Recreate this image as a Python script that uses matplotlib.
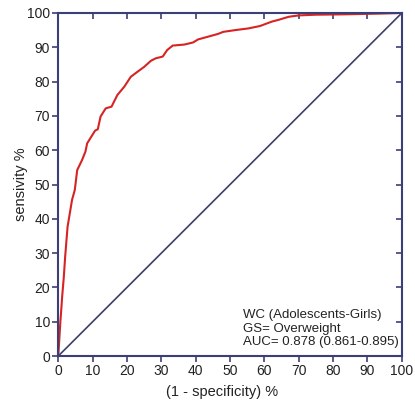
import matplotlib
matplotlib.use("Agg")
import matplotlib.pyplot as plt

plt.rcParams['font.family'] = ['Liberation Sans', 'DejaVu Sans']

# ROC curve: (1 - specificity) % and sensitivity %
fpr = [0, 0.3, 0.6, 0.9, 1.1, 1.6, 2.0, 2.7, 4.0, 4.8, 5.5, 6.9, 7.9, 8.4, 9.9,
       10.7, 11.5, 12.3, 13.8, 15.5, 17.2, 19.2, 21.1, 23.5, 25.0, 27.0, 28.4,
       30.4, 31.7, 33.3, 36.7, 39.2, 40.7, 43.6, 46.5, 48.0, 51.4, 55.3, 58.7,
       62.2, 64.1, 67.1, 70.0, 74.9, 82.7, 92.5, 100]
tpr = [0, 5, 10, 14, 17, 23, 29, 37.7, 45.5, 48.4, 54.2, 57.1, 59.6, 62, 64.4,
       65.7, 66.1, 69.8, 72.2, 72.7, 76.1, 78.5, 81.4, 83.2, 84.3, 86.1, 86.8,
       87.3, 89.2, 90.5, 90.8, 91.4, 92.3, 93.1, 93.9, 94.5, 95.0, 95.5, 96.2,
       97.5, 98.0, 98.9, 99.3, 99.5, 99.6, 99.8, 100]
ref_line = [0, 100]
ticks = list(range(0, 101, 10))
info = "WC (Adolescents-Girls)\nGS= Overweight\nAUC= 0.878 (0.861-0.895)"

navy = '#3b3f78'

fig = plt.figure(figsize=(4.15, 4.07), dpi=100)
ax = fig.add_axes([58.3 / 415, 51 / 407, 343.5 / 415, 343 / 407])

ax.plot(ref_line, ref_line, color='#3d3f68', lw=1.2)
ax.plot(fpr, tpr, color='#d62424', lw=1.5)

ax.set_xlim(0, 100)
ax.set_ylim(0, 100)
ax.set_xticks(ticks)
ax.set_yticks(ticks)
ax.tick_params(axis='both', direction='out', length=4, color=navy, width=1.2,
               labelsize=10, labelcolor='#222222', pad=2)
ax.tick_params(axis='both', which='both', top=True, right=True)
# top/right ticks point inward
for t in ax.xaxis.get_major_ticks():
    t.tick2line.set_marker(3)
for t in ax.yaxis.get_major_ticks():
    t.tick2line.set_marker(0)
for s in ax.spines.values():
    s.set_color(navy)
    s.set_linewidth(1.5)

ax.set_xlabel("(1 - specificity) %", fontsize=10.5, color='#222222')
ax.set_ylabel("sensivity %", fontsize=10.5, color='#222222')
ax.xaxis.set_label_coords(0.477, -0.085)
ax.yaxis.set_label_coords(-0.089, 0.5)

ax.text(0.537, 0.022, info, transform=ax.transAxes, fontsize=9.5,
        color='#222222', va='bottom', ha='left', linespacing=1.2)

fig.savefig("out.png", dpi=100)
